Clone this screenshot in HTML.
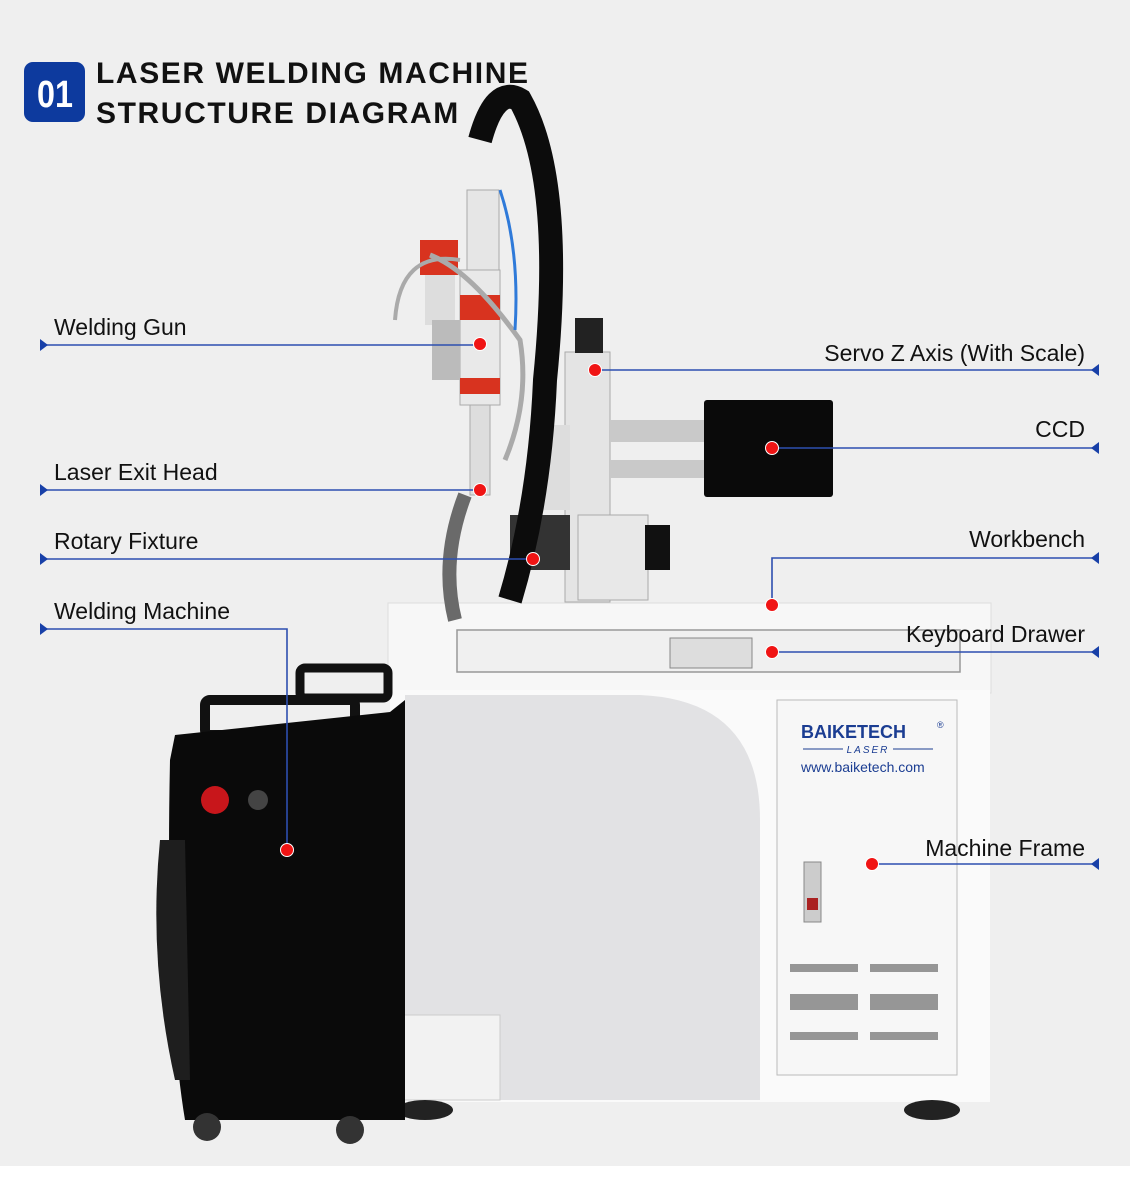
<!DOCTYPE html>
<html><head><meta charset="utf-8"><style>
body{margin:0;width:1130px;height:1178px;overflow:hidden;background:#fff}
svg{display:block}
text{font-family:"Liberation Sans",sans-serif}
</style></head><body>
<svg width="1130" height="1178" viewBox="0 0 1130 1178">
<rect x="0" y="0" width="1130" height="1166" fill="#efefef"/>
<!-- title -->
<rect x="24" y="62" width="61" height="60" rx="9" fill="#0d3a9e"/>
<text x="55" y="107" font-size="38" font-weight="bold" fill="#fff" text-anchor="middle" transform="scale(0.85,1) translate(9.7,0)">01</text>
<text x="96" y="83" font-size="30" font-weight="bold" fill="#111" letter-spacing="1.6">LASER WELDING MACHINE</text>
<text x="96" y="123" font-size="30" font-weight="bold" fill="#111" letter-spacing="1.6">STRUCTURE DIAGRAM</text>

<!-- table/workbench -->
<rect x="388" y="603" width="603" height="90" fill="#f7f7f7" stroke="#ddd"/>
<rect x="457" y="630" width="503" height="42" fill="#f0f0f0" stroke="#999" stroke-width="1.5"/>
<rect x="670" y="638" width="82" height="30" fill="#ddd" stroke="#888"/>
<rect x="390" y="690" width="600" height="412" fill="#fafafa"/>
<path d="M405 695 L640 695 Q760 700 760 820 L760 1100 L405 1100 Z" fill="#e2e2e4"/>
<rect x="777" y="700" width="180" height="375" fill="#f7f7f7" stroke="#bbb"/>
<rect x="804" y="862" width="17" height="60" fill="#ccc" stroke="#888"/>
<rect x="807" y="898" width="11" height="12" fill="#a22"/>
<text x="801" y="738" font-size="18" font-weight="bold" fill="#1b3d92">BAIKETECH</text>
<text x="937" y="728" font-size="9" fill="#1b3d92">®</text>
<line x1="803" y1="749" x2="843" y2="749" stroke="#1b3d92"/><line x1="893" y1="749" x2="933" y2="749" stroke="#1b3d92"/>
<text x="868" y="753" font-size="10" font-style="italic" fill="#1b3d92" text-anchor="middle" letter-spacing="2">LASER</text>
<text x="801" y="772" font-size="14" fill="#1b3d92">www.baiketech.com</text>
<g fill="#555">
<rect x="790" y="964" width="68" height="8" opacity=".6"/><rect x="870" y="964" width="68" height="8" opacity=".6"/>
<rect x="790" y="994" width="68" height="16" opacity=".6"/><rect x="870" y="994" width="68" height="16" opacity=".6"/>
<rect x="790" y="1032" width="68" height="8" opacity=".6"/><rect x="870" y="1032" width="68" height="8" opacity=".6"/>
</g>
<rect x="397" y="1015" width="103" height="85" fill="#f2f2f2" stroke="#ccc"/>
<ellipse cx="425" cy="1110" rx="28" ry="10" fill="#222"/>
<ellipse cx="932" cy="1110" rx="28" ry="10" fill="#222"/>

<!-- welding machine -->
<rect x="300" y="668" width="88" height="30" fill="none" stroke="#111" stroke-width="9" rx="5"/>
<rect x="205" y="700" width="150" height="35" fill="none" stroke="#111" stroke-width="10" rx="5"/>
<path d="M175 735 L390 712 L405 700 L405 1120 L185 1120 Q165 1000 170 760 Z" fill="#0a0a0a"/>
<path d="M160 840 Q148 960 175 1080 L190 1080 L185 840 Z" fill="#1e1e1e"/>
<circle cx="215" cy="800" r="14" fill="#c8161b"/>
<circle cx="258" cy="800" r="10" fill="#444"/>
<circle cx="207" cy="1127" r="14" fill="#333"/><circle cx="350" cy="1130" r="14" fill="#333"/>

<!-- column & arm -->
<rect x="565" y="352" width="45" height="250" fill="#e4e4e4" stroke="#aaa"/>
<rect x="610" y="420" width="95" height="22" fill="#c9c9c9"/>
<rect x="610" y="460" width="95" height="18" fill="#c9c9c9"/>
<rect x="704" y="400" width="129" height="97" rx="3" fill="#0a0a0a"/>
<rect x="578" y="515" width="70" height="85" fill="#e8e8e8" stroke="#aaa"/>
<rect x="645" y="525" width="25" height="45" fill="#111"/>
<rect x="510" y="515" width="60" height="55" fill="#333"/>
<rect x="530" y="425" width="40" height="85" fill="#ddd"/>
<rect x="575" y="318" width="28" height="35" fill="#222"/>
<!-- cable -->
<path d="M510 600 Q540 500 545 380 Q565 180 520 100 Q495 85 480 140" fill="none" stroke="#0c0c0c" stroke-width="24"/>
<path d="M455 620 Q440 560 465 495" fill="none" stroke="#6a6a6a" stroke-width="14"/>
<!-- gun -->
<rect x="467" y="190" width="32" height="80" fill="#e6e6e6" stroke="#aaa"/>
<rect x="460" y="270" width="40" height="135" fill="#e9e9e9" stroke="#aaa"/>
<rect x="460" y="295" width="40" height="25" fill="#d8331f"/>
<rect x="460" y="378" width="40" height="16" fill="#d8331f"/>
<rect x="420" y="240" width="38" height="35" fill="#d8331f"/>
<rect x="425" y="275" width="30" height="50" fill="#ddd"/>
<rect x="432" y="320" width="28" height="60" fill="#bbb"/>
<rect x="470" y="405" width="20" height="90" fill="#ddd" stroke="#aaa"/>
<path d="M395 320 Q400 250 460 260" fill="none" stroke="#aaa" stroke-width="4"/>
<path d="M430 255 Q470 270 520 340 Q530 400 505 460" fill="none" stroke="#aaa" stroke-width="5"/>
<path d="M500 190 Q520 250 515 330" fill="none" stroke="#2f7ad9" stroke-width="3"/>

<!-- connectors -->
<g stroke="#2d4fb0" stroke-width="1.6" fill="none">
<line x1="42" y1="345" x2="480" y2="345"/>
<line x1="595" y1="370" x2="1096" y2="370"/>
<line x1="772" y1="448" x2="1096" y2="448"/>
<line x1="42" y1="490" x2="480" y2="490"/>
<line x1="42" y1="559" x2="533" y2="559"/>
<polyline points="772,605 772,558 1096,558"/>
<line x1="772" y1="652" x2="1096" y2="652"/>
<polyline points="42,629 287,629 287,850"/>
<line x1="872" y1="864" x2="1096" y2="864"/>
</g>
<g fill="#1840a8">
<polygon points="40,339 48,345 40,351"/><polygon points="40,484 48,490 40,496"/>
<polygon points="40,553 48,559 40,565"/><polygon points="40,623 48,629 40,635"/>
<polygon points="1099,364 1091,370 1099,376"/><polygon points="1099,442 1091,448 1099,454"/>
<polygon points="1099,552 1091,558 1099,564"/><polygon points="1099,646 1091,652 1099,658"/>
<polygon points="1099,858 1091,864 1099,870"/>
</g>
<g fill="#f01414" stroke="#fff" stroke-width="1">
<circle cx="480" cy="344" r="6.5"/><circle cx="595" cy="370" r="6.5"/><circle cx="772" cy="448" r="6.5"/>
<circle cx="480" cy="490" r="6.5"/><circle cx="533" cy="559" r="6.5"/><circle cx="772" cy="605" r="6.5"/>
<circle cx="772" cy="652" r="6.5"/><circle cx="287" cy="850" r="6.5"/><circle cx="872" cy="864" r="6.5"/>
</g>
<g font-size="23" fill="#111">
<text x="54" y="335">Welding Gun</text>
<text x="54" y="480">Laser Exit Head</text>
<text x="54" y="549">Rotary Fixture</text>
<text x="54" y="619">Welding Machine</text>
<text x="1085" y="361" text-anchor="end">Servo Z Axis (With Scale)</text>
<text x="1085" y="437" text-anchor="end">CCD</text>
<text x="1085" y="547" text-anchor="end">Workbench</text>
<text x="1085" y="642" text-anchor="end">Keyboard Drawer</text>
<text x="1085" y="856" text-anchor="end">Machine Frame</text>
</g>
</svg>
</body></html>
